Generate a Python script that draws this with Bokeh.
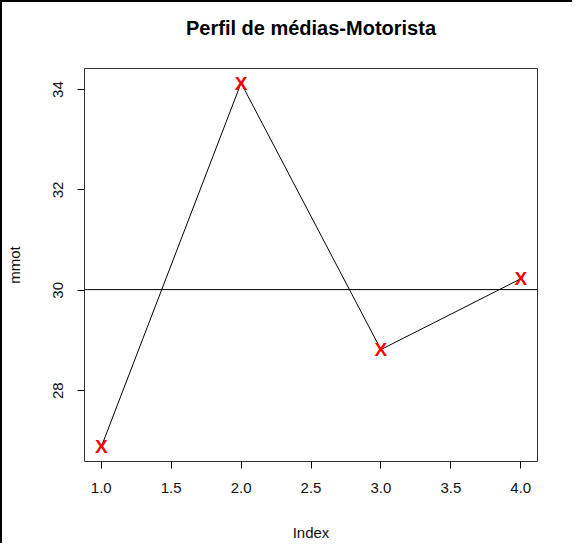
from bokeh.plotting import figure
from bokeh.models import Span, Range1d, FixedTicker, LinearAxis, ColumnDataSource
from bokeh.core.properties import value
from bokeh.embed import file_html
from bokeh.resources import INLINE

# data
index = [1, 2, 3, 4]
mmot = [26.88, 34.13, 28.82, 30.23]
x_ticks = [1.0, 1.5, 2.0, 2.5, 3.0, 3.5, 4.0]
x_tick_labels = ["1.0", "1.5", "2.0", "2.5", "3.0", "3.5", "4.0"]
y_ticks = [28, 30, 32, 34]
title_text = "Perfil de médias-Motorista"
mean_val = sum(mmot) / len(mmot)

FONT = "Liberation Sans"

xr = (max(index) - min(index)) * 0.04
yr = (max(mmot) - min(mmot)) * 0.04

p = figure(width=572, height=543, output_backend="svg", toolbar_location=None,
           x_range=Range1d(min(index) - xr, max(index) + xr),
           y_range=Range1d(min(mmot) - yr, max(mmot) + yr),
           min_border_left=81, min_border_right=37, min_border_top=66, min_border_bottom=84,
           styles={"border-left": "2px solid black", "border-top": "2px solid black"})

p.xgrid.visible = False
p.ygrid.visible = False
p.outline_line_color = "#333333"
p.outline_line_width = 1

for ax in (p.xaxis[0], p.yaxis[0]):
    ax.axis_line_color = None
    ax.major_tick_line_color = "black"
    ax.major_tick_out = 7
    ax.major_tick_in = 0
    ax.minor_tick_line_color = None
    ax.major_label_text_font = FONT
    ax.major_label_text_font_size = "15px"
    ax.major_label_text_color = "#111111"
    ax.axis_label_text_font = FONT
    ax.axis_label_text_font_size = "15px"
    ax.axis_label_text_font_style = "normal"
    ax.axis_label_text_color = "#111111"

p.xaxis.ticker = FixedTicker(ticks=x_ticks)
p.xaxis.major_label_overrides = {t: l for t, l in zip(x_ticks, x_tick_labels)}
p.xaxis.axis_label = "Index"
p.xaxis.major_label_standoff = 14
p.xaxis.axis_label_standoff = 28

p.yaxis.ticker = FixedTicker(ticks=y_ticks)
p.yaxis.axis_label = "mmot"
p.yaxis.major_label_orientation = "vertical"
p.yaxis.major_label_standoff = 14
p.yaxis.axis_label_standoff = 28

# title as the label of a bare axis above the frame (centred over the frame)
top = LinearAxis(ticker=FixedTicker(ticks=[]), axis_label=title_text,
                 axis_line_color=None, major_tick_line_color=None, minor_tick_line_color=None,
                 major_tick_out=0, major_tick_in=0, major_label_standoff=0,
                 major_label_text_font_size="0px",
                 axis_label_text_font=FONT, axis_label_text_font_size="20px",
                 axis_label_text_font_style="bold", axis_label_text_color="black",
                 axis_label_standoff=30)
p.add_layout(top, "above")

src = ColumnDataSource(dict(x=index, y=mmot, t=["X"] * len(index)))
p.line("x", "y", source=src, line_color="black", line_width=1)
p.add_layout(Span(location=mean_val, dimension="width", line_color="black", line_width=1))
p.text("x", "y", text="t", source=src, text_color="red", text_font=value(FONT),
       text_font_size="19px", text_font_style="bold", text_align="center", text_baseline="middle")

open("out.html", "w").write(file_html(p, INLINE))
